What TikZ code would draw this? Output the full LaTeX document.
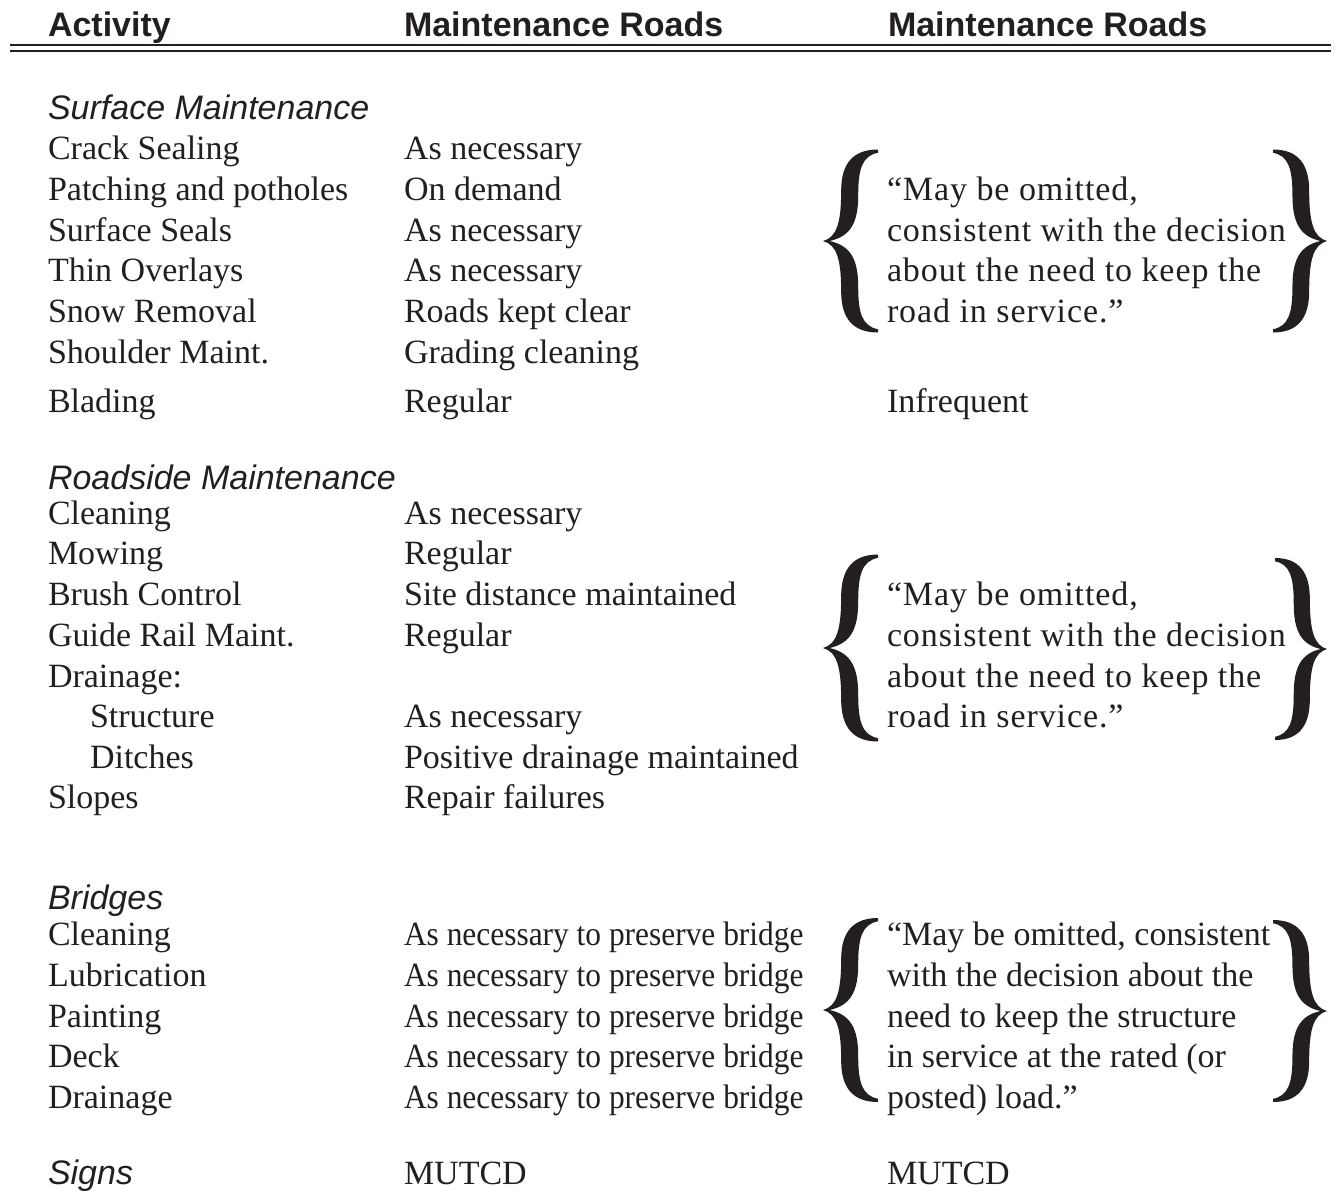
\documentclass[tikz,border=0pt]{standalone}
\usepackage{fontspec}
\setmainfont{Liberation Serif}
\setsansfont{Liberation Sans}
\definecolor{ink}{RGB}{35,31,32}
\tikzset{
  lbr/.pic={
    \fill[ink] (1,1) .. controls (0.55,1) and (0.33,0.85) .. (0.33,0.55)
      .. controls (0.33,0.2) and (0.25,0.04) .. (0,0)
      .. controls (0.25,-0.04) and (0.33,-0.2) .. (0.33,-0.55)
      .. controls (0.33,-0.85) and (0.55,-1) .. (1,-1)
      -- (1,-0.965) .. controls (0.72,-0.93) and (0.64,-0.8) .. (0.64,-0.5)
      .. controls (0.64,-0.2) and (0.5,-0.05) .. (0.12,0)
      .. controls (0.5,0.05) and (0.64,0.2) .. (0.64,0.5)
      .. controls (0.64,0.8) and (0.72,0.93) .. (1,0.965) -- cycle;
  }
}
\newcommand{\sqz}[1]{\scalebox{0.924}[1]{#1}}
\begin{document}
\begin{tikzpicture}[x=0.75pt,y=-0.75pt,
  every node/.style={inner sep=0pt, outer sep=0pt, anchor=base west, text=ink,
    font=\fontsize{25.5}{30}\selectfont},
  hdr/.style={font=\sffamily\bfseries\fontsize{25.5}{30}\selectfont},
  sec/.style={font=\sffamily\itshape\fontsize{25.5}{30}\selectfont},
  wide/.style={font=\fontsize{25.5}{30}\selectfont\addfontfeatures{LetterSpace=2.7}},
  rulea/.style={draw=ink, line width=1.65pt},
  ruleb/.style={draw=ink, line width=1.5pt}
]
\useasboundingbox (0,0) rectangle (1334,1190);

% header
\node[hdr] (h1) at (48,36) {Activity};
\node[hdr] (h2) at (404,36) {Maintenance Roads};
\node[hdr] (h3) at (888,36) {Maintenance Roads};
\coordinate (ra) at (10,45);
\coordinate (rb) at (1331,45);
\coordinate (rc) at (10,51);
\coordinate (rd) at (1331,51);
\draw[rulea] (ra) -- (rb);
\draw[ruleb] (rc) -- (rd);

% braces
\pic[xscale=55,yscale=91.5] at (823,241) {lbr};
\pic[xscale=-54,yscale=91.5] at (1327,241) {lbr};
\pic[xscale=55,yscale=93.5] at (823,648) {lbr};
\pic[xscale=-52,yscale=91] at (1327,649) {lbr};
\pic[xscale=55,yscale=92] at (823,1010) {lbr};
\pic[xscale=-54,yscale=91] at (1327,1011) {lbr};

\begin{scope}[yshift=-3pt]
% Surface maintenance
\node[sec] (s1) at (48,115) {Surface Maintenance};
\node (a1) at (48,155) {Crack Sealing};
\node (a2) at (48,196) {Patching and potholes};
\node (a3) at (48,237) {Surface Seals};
\node (a4) at (48,277) {Thin Overlays};
\node (a5) at (48,318) {Snow Removal};
\node (a6) at (48,359) {Shoulder Maint.};
\node (a7) at (48,408) {Blading};
\node (b1) at (404,155) {As necessary};
\node (b2) at (404,196) {On demand};
\node (b3) at (404,237) {As necessary};
\node (b4) at (404,277) {As necessary};
\node (b5) at (404,318) {Roads kept clear};
\node (b6) at (404,359) {Grading cleaning};
\node (b7) at (404,408) {Regular};
\node (c7) at (887,408) {Infrequent};
\node[wide] (q11) at (887,196) {“May be omitted,};
\node[wide] (q12) at (887,237) {consistent with the decision};
\node[wide] (q13) at (887,277) {about the need to keep the};
\node[wide] (q14) at (887,318) {road in service.”};

% Roadside maintenance
\node[sec] (s2) at (48,485) {Roadside Maintenance};
\node (d1) at (48,520) {Cleaning};
\node (d2) at (48,560) {Mowing};
\node (d3) at (48,601) {Brush Control};
\node (d4) at (48,642) {Guide Rail Maint.};
\node (d5) at (48,683) {Drainage:};
\node (d6) at (90,723) {Structure};
\node (d7) at (90,764) {Ditches};
\node (d8) at (48,804) {Slopes};
\node (e1) at (404,520) {As necessary};
\node (e2) at (404,560) {Regular};
\node (e3) at (404,601) {Site distance maintained};
\node (e4) at (404,642) {Regular};
\node (e6) at (404,723) {As necessary};
\node (e7) at (404,764) {Positive drainage maintained};
\node (e8) at (404,804) {Repair failures};
\node[wide] (q21) at (887,601) {“May be omitted,};
\node[wide] (q22) at (887,642) {consistent with the decision};
\node[wide] (q23) at (887,683) {about the need to keep the};
\node[wide] (q24) at (887,723) {road in service.”};

% Bridges
\node[sec] (s3) at (48,905) {Bridges};
\node (f1) at (48,941) {Cleaning};
\node (f2) at (48,982) {Lubrication};
\node (f3) at (48,1023) {Painting};
\node (f4) at (48,1063) {Deck};
\node (f5) at (48,1104) {Drainage};
\node (g1) at (404,941) {\sqz{As necessary to preserve bridge}};
\node (g2) at (404,982) {\sqz{As necessary to preserve bridge}};
\node (g3) at (404,1023) {\sqz{As necessary to preserve bridge}};
\node (g4) at (404,1063) {\sqz{As necessary to preserve bridge}};
\node (g5) at (404,1104) {\sqz{As necessary to preserve bridge}};
\node (q31) at (887,941) {“May be omitted, consistent};
\node (q32) at (887,982) {with the decision about the};
\node (q33) at (887,1023) {need to keep the structure};
\node (q34) at (887,1063) {in service at the rated (or};
\node (q35) at (887,1104) {posted) load.”};

% Signs
\node[sec] (s4) at (48,1180) {Signs};
\node (h4) at (404,1180) {MUTCD};
\node (c8) at (887,1180) {MUTCD};
\end{scope}
\end{tikzpicture}
\end{document}
